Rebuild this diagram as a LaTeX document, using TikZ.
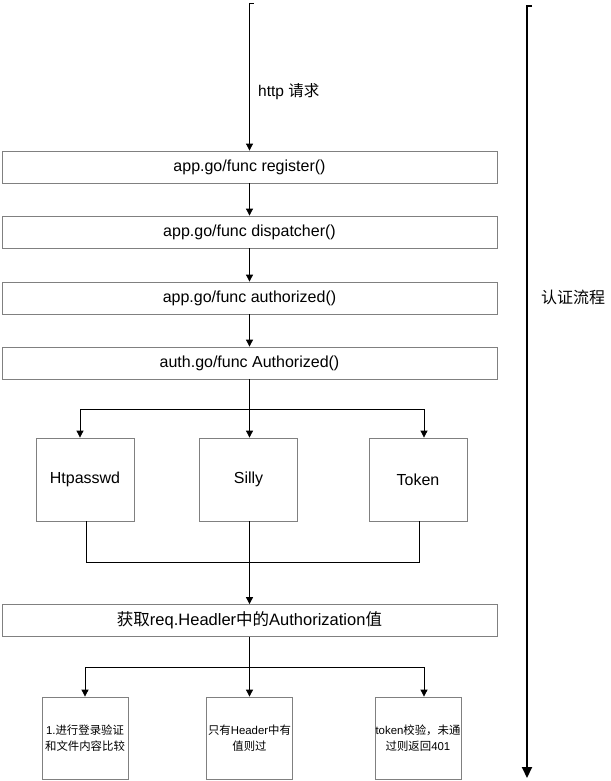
\documentclass[tikz,border=0pt]{standalone}
\usepackage{fontspec}
\setmainfont{Liberation Sans}
\newfontfamily\cjk{Noto Sans CJK SC}
\usetikzlibrary{arrows.meta,calc}
\definecolor{boxgray}{RGB}{128,128,128}
\begin{document}
\begin{tikzpicture}[x=1pt,y=-1pt,
  wide/.style={draw=boxgray,line width=0.8pt,minimum width=495pt,minimum height=32pt,inner sep=0pt,font=\fontsize{16}{18}\selectfont},
  mid/.style={draw=boxgray,line width=0.8pt,minimum width=98pt,minimum height=83pt,inner sep=0pt,font=\fontsize{16}{18}\selectfont},
  small/.style={draw=boxgray,line width=0.8pt,minimum width=86pt,minimum height=82pt,inner sep=0pt,align=center,font=\fontsize{11.4}{16}\selectfont},
  conn/.style={line width=0.8pt,black},
  arr/.style={conn,-{Triangle[length=7pt,width=7pt]}},
  bigarr/.style={line width=2pt,black,-{Triangle[length=11pt,width=10pt]}}
]
\useasboundingbox (0,0) rectangle (610,781);

% main boxes
\node[wide] (b1) at (249.5,167) {app.go/func register()};
\node[wide] (b2) at (249.5,232) {app.go/func dispatcher()};
\node[wide] (b3) at (249.5,298) {app.go/func authorized()};
\node[wide] (b4) at (249.5,363) {auth.go/func Authorized()};

\node[mid] (hp) at (85,479.5) {Htpasswd};
\node[mid] (si) at (248.5,479.5) {Silly};
\node[mid] (tk) at (418,479.5) {Token};

\node[wide,font=\fontsize{16.5}{18}\selectfont] (hd) at (249.5,620.5) {{\cjk 获取}req.Headler{\cjk 中的}Authorization{\cjk 值}};

\node[small] (s1) at (85,738) {1.{\cjk 进行登录验证}\\{\cjk 和文件内容比较}};
\node[small] (s2) at (249.5,738) {{\cjk 只有}Header{\cjk 中有}\\{\cjk 值则过}};
\node[small] (s3) at (418,738) {token{\cjk 校验，未通}\\{\cjk 过则返回}401};

% incoming request
\coordinate (top) at (249.5,3);
\draw[conn] ($(top)+(4,0)$) -- (top);
\draw[arr] (top) -- (b1.north);
\node[anchor=west,font=\fontsize{15.5}{17}\selectfont,inner sep=0pt] (http) at (258,92) {http {\cjk 请求}};

\draw[arr] (b1) -- (b2);
\draw[arr] (b2) -- (b3);
\draw[arr] (b3) -- (b4);

% first branch
\coordinate (j1) at (249.5,409);
\draw[conn] (b4.south) -- (j1);
\draw[arr] (j1) -| ($(hp.north)+(-5,0)$);
\draw[arr] (j1) -- (si.north -| j1);
\draw[arr] (j1) -| ($(tk.north)+(6,0)$);

% merge
\coordinate (j2) at (249.5,562);
\draw[conn] ($(hp.south)+(1,0)$) |- (j2);
\draw[conn] ($(tk.south)+(1,0)$) |- (j2);
\draw[conn] (si.south -| j2) -- (j2);
\draw[arr] (j2) -- (hd.north);

% second branch
\coordinate (j3) at (249.5,667);
\draw[conn] (hd.south) -- (j3);
\draw[arr] (j3) -| (s1.north);
\draw[arr] (j3) -- (s2.north);
\draw[arr] (j3) -| ($(s3.north)+(6,0)$);

% process arrow on the right
\coordinate (rs) at (527,6);
\coordinate (re) at (527,778);
\draw[line width=2pt] ($(rs)+(5,0)$) -- ($(rs)+(-1,0)$);
\draw[bigarr] (rs) -- (re);
\node[font=\fontsize{16}{18}\selectfont\cjk,anchor=west,inner sep=0pt] (lbl) at (541,297) {认证流程};
\end{tikzpicture}
\end{document}
